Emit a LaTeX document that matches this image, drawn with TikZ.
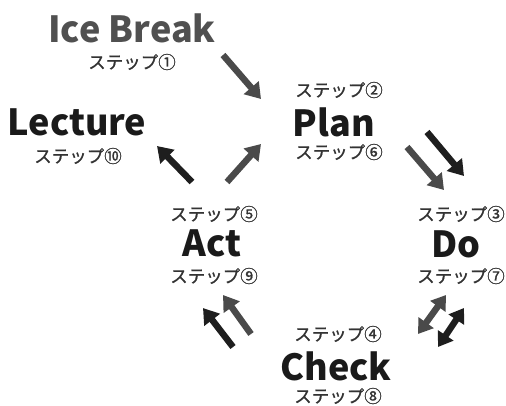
\documentclass[tikz,border=0pt]{standalone}
\usepackage{fontspec}
\setmainfont{Noto Sans CJK JP}
\newfontfamily\jpfont{Noto Sans CJK JP}[FakeBold=0.9]
\usetikzlibrary{arrows.meta}
\definecolor{inkA}{HTML}{1A1A1A}
\definecolor{inkB}{HTML}{505050}
\definecolor{inkJ}{HTML}{333333}
\definecolor{arrDark}{HTML}{1E1E1E}
\definecolor{arrGray}{HTML}{4A4A4A}
\tikzset{
  title/.style={anchor=base, inner sep=0pt, text=inkA, font=\bfseries\fontsize{36}{36}\selectfont},
  jstep/.style={anchor=center, inner sep=0pt, text=inkJ, font=\jpfont\fontsize{17.5}{17.5}\selectfont},
  fat/.style={line width=6.5pt, -{Triangle[length=15pt,width=19pt]}},
  fatboth/.style={line width=6.5pt, {Triangle[length=14pt,width=18pt]}-{Triangle[length=14pt,width=18pt]}},
}
\begin{document}
\begin{tikzpicture}[x=1pt,y=-1pt]
\useasboundingbox (0,0) rectangle (506,405);
% titles
\node[title, text=inkB] (ice) at (132,42) {Ice Break};
\node[title] (lec) at (77,135) {Lecture};
\node[title] (plan) at (334,136) {Plan};
\node[title] (do) at (456,257) {Do};
\node[title] (act) at (212,256) {Act};
\node[title] (check) at (336,380) {Check};
% steps
\node[jstep] (s1) at (132,62) {ステップ①};
\node[jstep] (s10) at (78,156) {ステップ⑩};
\node[jstep] (s2) at (339,90) {ステップ②};
\node[jstep] (s6) at (339,152) {ステップ⑥};
\node[jstep] (s3) at (461,214) {ステップ③};
\node[jstep] (s7) at (461,276) {ステップ⑦};
\node[jstep] (s5) at (214,214) {ステップ⑤};
\node[jstep] (s9) at (214,276) {ステップ⑨};
\node[jstep] (s4) at (338,334) {ステップ④};
\node[jstep] (s8) at (338,396) {ステップ⑧};
% arrow end points
\coordinate (a1s) at (223,55);  \coordinate (a1e) at (261,99);
\coordinate (a2s) at (192,182); \coordinate (a2e) at (157,146);
\coordinate (a3s) at (227,182); \coordinate (a3e) at (261,144);
\coordinate (a4s) at (407,147); \coordinate (a4e) at (444,190);
\coordinate (a5s) at (427,132); \coordinate (a5e) at (464,176);
\coordinate (a6s) at (418,334); \coordinate (a6e) at (446,295);
\coordinate (a7s) at (438,347); \coordinate (a7e) at (464,308);
\coordinate (a8s) at (233,347); \coordinate (a8e) at (203,308);
\coordinate (a9s) at (251,334); \coordinate (a9e) at (223,295);
% arrows
\draw[fat, draw=arrGray, fill=arrGray] (a1s) -- (a1e);
\draw[fat, draw=arrDark, fill=arrDark] (a2s) -- (a2e);
\draw[fat, draw=arrGray, fill=arrGray] (a3s) -- (a3e);
\draw[fat, draw=arrGray, fill=arrGray] (a4s) -- (a4e);
\draw[fat, draw=arrDark, fill=arrDark] (a5s) -- (a5e);
\draw[fatboth, draw=arrGray, fill=arrGray] (a6s) -- (a6e);
\draw[fatboth, draw=arrDark, fill=arrDark] (a7s) -- (a7e);
\draw[fat, draw=arrDark, fill=arrDark] (a8s) -- (a8e);
\draw[fat, draw=arrGray, fill=arrGray] (a9s) -- (a9e);
\end{tikzpicture}
\end{document}
